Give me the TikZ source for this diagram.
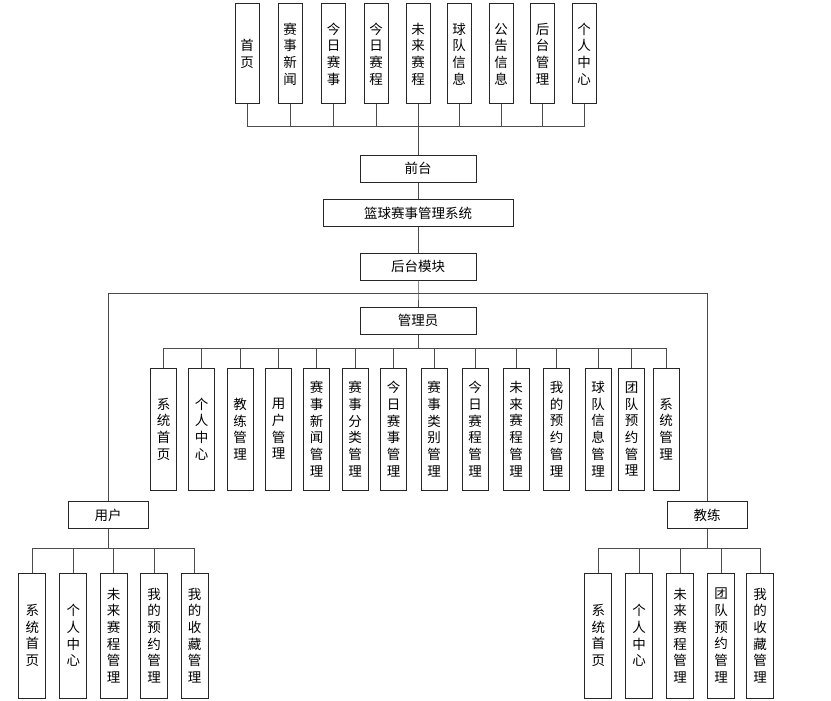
\documentclass[tikz,border=0pt]{standalone}
\usepackage{fontspec}
\newfontfamily\cjk{Noto Sans CJK SC}
\begin{document}
\begin{tikzpicture}[x=1pt,y=-1pt,
  box/.style={draw=black!85,line width=1pt,fill=white,inner sep=0pt,align=center,
    font=\cjk\fontsize{13.5}{16.7}\selectfont},
  topbox/.style={box,minimum width=24pt,minimum height=100pt},
  hbox/.style={box,minimum height=27pt},
  abox/.style={box,minimum width=26pt,minimum height=122pt},
  ubox/.style={box,minimum width=27pt,minimum height=125pt},
  conn/.style={draw=black!70,line width=1pt}]
\useasboundingbox (0,0) rectangle (831,701);
% top row
\node[topbox] (t1) at (247,54) {首\\页};
\node[topbox] (t2) at (290,54) {赛\\事\\新\\闻};
\node[topbox] (t3) at (333.5,54) {今\\日\\赛\\事};
\node[topbox] (t4) at (376,54) {今\\日\\赛\\程};
\node[topbox] (t5) at (418,54) {未\\来\\赛\\程};
\node[topbox] (t6) at (459,54) {球\\队\\信\\息};
\node[topbox] (t7) at (501,54) {公\\告\\信\\息};
\node[topbox] (t8) at (542.5,54) {后\\台\\管\\理};
\node[topbox] (t9) at (584,54) {个\\人\\中\\心};
\coordinate (tb) at (418,127);
\foreach \i in {1,...,9}{\draw[conn] (t\i.south) |- (tb);}
% central column
\node[hbox,minimum width=116pt] (qt) at (418,168.5) {前台};
\node[hbox,minimum width=190pt] (sys) at (418,213) {篮球赛事管理系统};
\node[hbox,minimum width=116pt] (hm) at (418,266.5) {后台模块};
\node[hbox,minimum width=116pt] (gly) at (418,320.5) {管理员};
\draw[conn] (tb) -- (qt.north);
\draw[conn] (qt) -- (sys);
\draw[conn] (sys) -- (hm);
\coordinate (hb) at (418,293);
\draw[conn] (hm.south) -- (hb) -- (gly.north);
% admin row
\coordinate (ab) at (418,348);
\draw[conn] (gly.south) -- (ab);
\foreach \x/\t [count=\i] in {163.7/{系\\统\\首\\页},201.7/{个\\人\\中\\心},240/{教\\练\\管\\理},278.5/{用\\户\\管\\理},
  316.5/{赛\\事\\新\\闻\\管\\理},355/{赛\\事\\分\\类\\管\\理},393.5/{今\\日\\赛\\事\\管\\理},434/{赛\\事\\类\\别\\管\\理},
  475/{今\\日\\赛\\程\\管\\理},516/{未\\来\\赛\\程\\管\\理},556.5/{我\\的\\预\\约\\管\\理},598/{球\\队\\信\\息\\管\\理},
  631.5/{团\\队\\预\\约\\管\\理},666/{系\\统\\管\\理}}{
  \node[abox] (a\i) at (\x,429) {\t};
  \draw[conn] (a\i.north) |- (ab);
}
% user / coach
\node[hbox,minimum width=80pt] (u) at (108,515) {用户};
\node[hbox,minimum width=80pt] (c) at (707,515) {教练};
\draw[conn] (u.north) |- (hb);
\draw[conn] (c.north) |- (hb);
\coordinate (ub) at (108,548);
\coordinate (cb) at (707,548);
\draw[conn] (u.south) -- (ub);
\draw[conn] (c.south) -- (cb);
\foreach \x/\t [count=\i] in {32.3/{系\\统\\首\\页},73.3/{个\\人\\中\\心},113.7/{未\\来\\赛\\程\\管\\理},154/{我\\的\\预\\约\\管\\理},194.5/{我\\的\\收\\藏\\管\\理}}{
  \node[ubox] (u\i) at (\x,635.5) {\t};
  \draw[conn] (u\i.north) |- (ub);
}
\foreach \x/\t [count=\i] in {598.3/{系\\统\\首\\页},639/{个\\人\\中\\心},680/{未\\来\\赛\\程\\管\\理},721/{团\\队\\预\\约\\管\\理},760/{我\\的\\收\\藏\\管\\理}}{
  \node[ubox] (c\i) at (\x,635.5) {\t};
  \draw[conn] (c\i.north) |- (cb);
}
\end{tikzpicture}
\end{document}
